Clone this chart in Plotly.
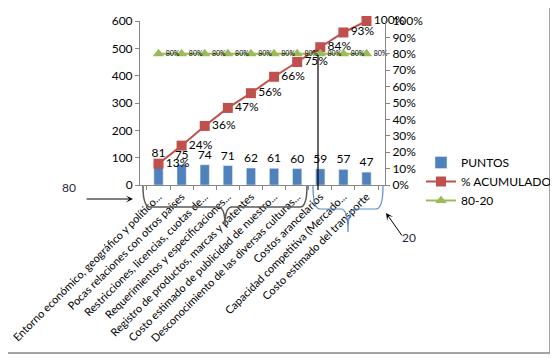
import plotly.graph_objects as go

categories = [
    "Entorno económico, geográfico y político...",
    "Pocas relaciones con otros países",
    "Restricciones, licencias, cuotas de...",
    "Requerimientos y especificaciones...",
    "Registro de productos, marcas y patentes",
    "Costo estimado de publicidad de nuestro...",
    "Desconocimiento de las diversas culturas...",
    "Costos arancelarios",
    "Capacidad competitiva (Mercado...",
    "Costo estimado del transporte",
]
puntos = [81, 75, 74, 71, 62, 61, 60, 59, 57, 47]
acumulado = [0.13, 0.24, 0.36, 0.47, 0.56, 0.66, 0.75, 0.84, 0.93, 1.00]
ochenta_veinte = [0.80] * 10
left_ticks = [0, 100, 200, 300, 400, 500, 600]

# page body has an 8px default margin; work in screen pixels and compensate
OFF = 8
W, H = 558 - OFF, 359 - OFF
L, R, T, B = 140, 385, 21, 185  # plot area in screen pixels

def px(x):
    return (x - L) / (R - L)

def py(y):
    return (B - y) / (B - T)

FONT = "Lato, 'Liberation Sans', sans-serif"
BLUE = "#4F81BD"
RED = "#C0504D"
GREEN = "#9BBB59"
GRAY = "#868686"

fig = go.Figure()
fig.add_trace(go.Bar(
    x=categories, y=puntos, name="PUNTOS", marker_color=BLUE,
    text=[str(v) for v in puntos], textposition="outside", constraintext="none",
    textfont=dict(size=12, color="#000"), cliponaxis=False,
))
fig.add_trace(go.Scatter(
    x=categories, y=acumulado, name="% ACUMULADO", yaxis="y2",
    mode="lines+markers+text", line=dict(color=RED, width=2),
    marker=dict(symbol="square", size=10, color=RED),
    text=[f"{round(v*100)}%" for v in acumulado], textposition="middle right",
    textfont=dict(size=12, color="#000"), cliponaxis=False,
))
fig.add_trace(go.Scatter(
    x=categories, y=ochenta_veinte, name="80-20", yaxis="y2",
    mode="lines+markers+text", line=dict(color=GREEN, width=2),
    marker=dict(symbol="triangle-up", size=10, color=GREEN),
    text=[f"{round(v*100)}%" for v in ochenta_veinte], textposition="middle right",
    textfont=dict(size=7, color="#000"), cliponaxis=False,
))

def path(points_cmds):
    out = []
    for cmd, pts in points_cmds:
        coords = " ".join(f"{px(x):.4f},{py(y):.4f}" for x, y in pts)
        out.append(f"{cmd} {coords}")
    return " ".join(out)

gray_brace = path([
    ("M", [(143, 186)]), ("Q", [(143, 207), (150, 207)]), ("L", [(218, 207)]),
    ("Q", [(225, 207), (225, 225)]), ("Q", [(225, 207), (232, 207)]),
    ("L", [(300, 207)]), ("Q", [(307, 207), (307, 186)]),
])
blue_brace = path([
    ("M", [(313, 186)]), ("Q", [(313, 209), (320, 209)]), ("L", [(341, 209)]),
    ("Q", [(348, 209), (348, 232)]), ("Q", [(348, 209), (355, 209)]),
    ("L", [(376, 209)]), ("Q", [(383, 209), (383, 186)]),
])

shapes = [
    dict(type="rect", xref="paper", yref="paper", x0=px(7), x1=px(550), y0=py(353), y1=py(7),
         line=dict(color=GRAY, width=1.5), layer="below"),
    dict(type="path", xref="paper", yref="paper", path=gray_brace,
         line=dict(color="#595959", width=1.5)),
    dict(type="path", xref="paper", yref="paper", path=blue_brace,
         line=dict(color="#5B8BC9", width=1.2)),
    dict(type="line", xref="paper", yref="paper", x0=px(318), x1=px(318), y0=py(190), y1=py(55),
         line=dict(color="#000", width=1.2)),
]

annotations = [
    dict(xref="paper", yref="paper", x=px(60), y=py(197), text="80", showarrow=False,
         font=dict(size=12, color="#1F2A44", family=FONT)),
    dict(xref="paper", yref="paper", x=px(133), y=py(199), text="", showarrow=True,
         ax=-48, ay=0, arrowhead=3, arrowsize=1.2, arrowwidth=1, arrowcolor="#000"),
    dict(xref="paper", yref="paper", x=px(418), y=py(247), text="20", showarrow=False,
         font=dict(size=12, color="#1F2A44", family=FONT)),
    dict(xref="paper", yref="paper", x=px(386), y=py(213), text="", showarrow=True,
         ax=17, ay=24, arrowhead=3, arrowsize=1.2, arrowwidth=1, arrowcolor="#000"),
]

fig.update_layout(
    width=W, height=H, autosize=False,
    margin=dict(l=L - OFF, r=W - (R - OFF), t=T - OFF, b=H - (B - OFF), autoexpand=False),
    paper_bgcolor="white", plot_bgcolor="white",
    font=dict(family=FONT, size=11, color="#000"),
    bargap=0.6, showlegend=True,
    legend=dict(x=px(421), y=py(148), xanchor="left", yanchor="top",
                font=dict(size=12, color="#000"), bgcolor="rgba(0,0,0,0)",
                tracegroupgap=0, itemwidth=30),
    xaxis=dict(type="category", tickangle=-45, showline=True, linecolor=GRAY,
               ticks="outside", tickson="boundaries", ticklen=4, tickcolor=GRAY,
               tickfont=dict(size=11, color="#000"), showgrid=False, automargin=False),
    yaxis=dict(range=[0, 600], tickvals=left_ticks, showline=True, linecolor=GRAY,
               ticks="outside", ticklen=4, tickcolor=GRAY, showgrid=False, zeroline=False,
               tickfont=dict(size=12, color="#000"), automargin=False),
    yaxis2=dict(range=[0, 1], overlaying="y", side="right", dtick=0.1, tickformat=".0%",
                showline=True, linecolor=GRAY, ticks="outside", ticklen=4, tickcolor=GRAY,
                showgrid=False, zeroline=False, tickfont=dict(size=12, color="#000"),
                automargin=False),
    shapes=shapes, annotations=annotations,
)

fig.write_html("out.html")
